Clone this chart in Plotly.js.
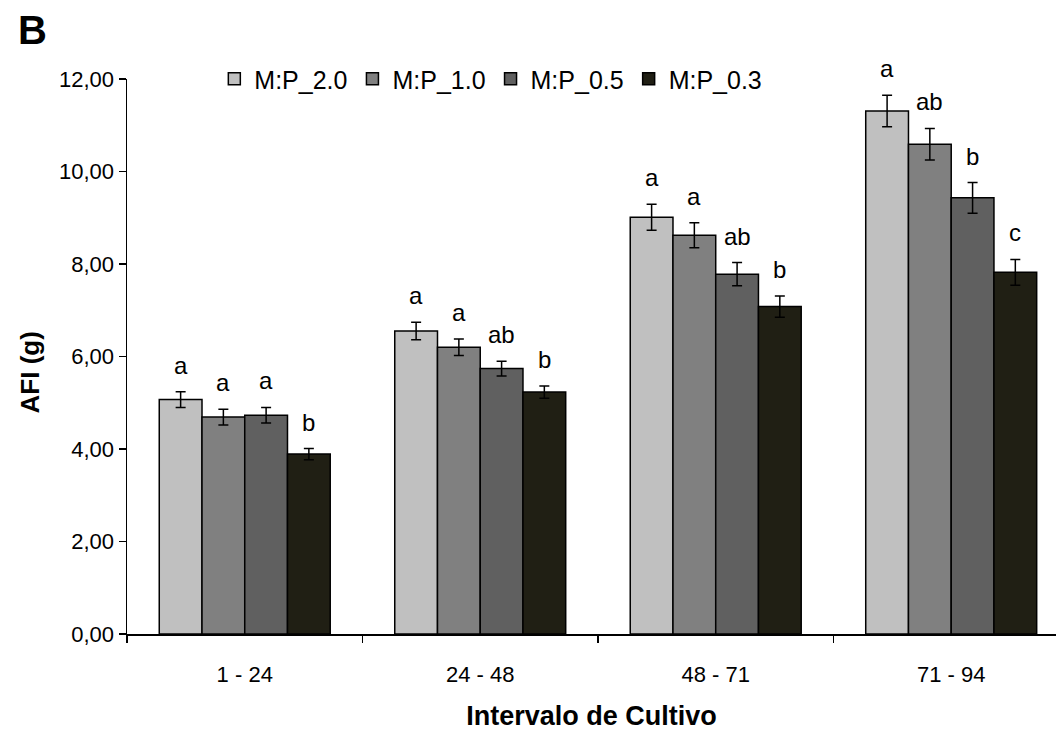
<!DOCTYPE html>
<html>
<head>
<meta charset="utf-8">
<script src="https://cdn.plot.ly/plotly-3.0.1.min.js"></script>
<style>html,body{margin:0;padding:0;background:#fff;}#chart{width:1056px;height:731px;}</style>
</head>
<body>
<div id="chart"></div>
<script>
const categories = ['1 - 24', '24 - 48', '48 - 71', '71 - 94'];
const seriesNames = ['M:P_2.0', 'M:P_1.0', 'M:P_0.5', 'M:P_0.3'];
const mp20 = [5.07, 6.55, 9.01, 11.31];
const mp10 = [4.69, 6.20, 8.62, 10.59];
const mp05 = [4.73, 5.74, 7.78, 9.43];
const mp03 = [3.89, 5.23, 7.08, 7.82];
const err20 = [0.17, 0.19, 0.28, 0.34];
const err10 = [0.17, 0.18, 0.27, 0.34];
const err05 = [0.17, 0.16, 0.25, 0.33];
const err03 = [0.12, 0.13, 0.23, 0.28];
const letters20 = ['a', 'a', 'a', 'a'];
const letters10 = ['a', 'a', 'a', 'ab'];
const letters05 = ['a', 'ab', 'ab', 'b'];
const letters03 = ['b', 'b', 'b', 'c'];
const yTitle = 'AFI (g)';
const xTitle = 'Intervalo de Cultivo';
const panelLabel = 'B';

const values = [mp20, mp10, mp05, mp03];
const errors = [err20, err10, err05, err03];
const letters = [letters20, letters10, letters05, letters03];
const colors = ['#C0C0C0', '#808080', '#606060', '#201F14'];
const FONT = 'Arial, "Liberation Sans", sans-serif';

const bargap = 0.274;
const traces = values.map((v, i) => ({
  type: 'bar',
  name: seriesNames[i],
  x: categories,
  y: v,
  marker: {color: colors[i], line: {color: '#000', width: 1.5}},
  error_y: {type: 'data', array: errors[i], visible: true, color: '#000', thickness: 1.5, width: 5}
}));

const barW = (1 - bargap) / 4;
const annotations = [];
values.forEach((v, i) => {
  v.forEach((val, j) => {
    annotations.push({
      x: j + (i - 1.5) * barW,
      y: val + errors[i][j],
      xref: 'x', yref: 'y',
      text: letters[i][j],
      showarrow: false,
      yanchor: 'bottom',
      yshift: 11,
      font: {family: FONT, size: 24, color: '#000'}
    });
  });
});
annotations.push({
  text: '<b>' + panelLabel + '</b>',
  xref: 'paper', yref: 'paper',
  x: -0.119, y: 1.088,
  xanchor: 'left', yanchor: 'middle',
  showarrow: false,
  font: {family: FONT, size: 40, color: '#000'}
});
annotations.push({
  text: '<b>' + yTitle + '</b>',
  xref: 'paper', yref: 'paper',
  x: -0.104, y: 0.472,
  xanchor: 'center', yanchor: 'middle',
  textangle: -90,
  showarrow: false,
  font: {family: FONT, size: 26, color: '#000'}
});

const layout = {
  width: 1056, height: 731,
  margin: {l: 127, r: 0, t: 79, b: 97},
  paper_bgcolor: '#fff', plot_bgcolor: '#fff',
  separators: ', ',
  barmode: 'group',
  bargap: bargap,
  bargroupgap: 0,
  font: {family: FONT, color: '#000', size: 22},
  showlegend: true,
  legend: {
    orientation: 'h', x: 0.094, xanchor: 'left', y: 1.0, yanchor: 'middle',
    font: {family: FONT, size: 25, color: '#000'},
    bgcolor: 'rgba(0,0,0,0)', traceorder: 'normal'
  },
  xaxis: {
    type: 'category',
    range: [-0.5, 3.445],
    showline: true, linecolor: '#000', linewidth: 1.5,
    ticks: 'outside', tickson: 'boundaries', ticklen: 7, tickwidth: 1.5, tickcolor: '#000',
    ticklabelstandoff: 20,
    tickfont: {family: FONT, size: 22, color: '#000'},
    showgrid: false, zeroline: false,
    title: {text: '<b>' + xTitle + '</b>', font: {family: FONT, size: 27, color: '#000'}, standoff: 20}
  },
  yaxis: {
    range: [0, 12], dtick: 2, tick0: 0,
    tickformat: '.2f',
    showline: true, linecolor: '#000', linewidth: 1.5,
    ticks: 'outside', ticklen: 7, tickwidth: 1.5, tickcolor: '#000',
    tickfont: {family: FONT, size: 22, color: '#000'},
    showgrid: false, zeroline: false
  },
  annotations: annotations
};

Plotly.newPlot('chart', traces, layout, {displayModeBar: false, staticPlot: true});
</script>
</body>
</html>
